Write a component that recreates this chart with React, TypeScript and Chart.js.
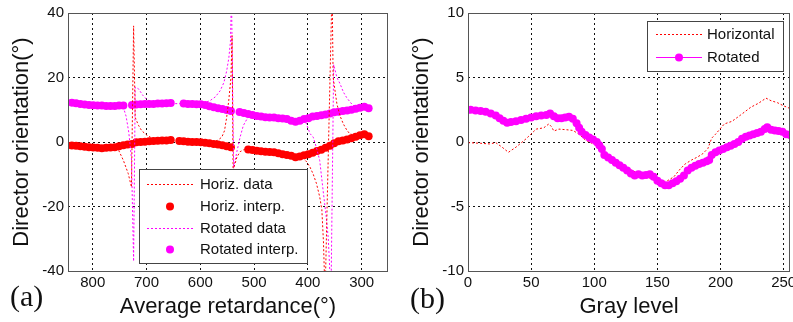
import React, { useEffect, useRef } from "react";
import { Chart, registerables } from "chart.js";

Chart.register(...registerables);

// ---------- Panel (a) data ----------
const retardanceTicks = [800, 700, 600, 500, 400, 300];
const orientationTicksA = [-40, -20, 0, 20, 40];

// common retardance grid for interpolated series
const retardanceGrid = [
  839, 831, 823, 815, 807, 799, 791, 783, 775, 767, 759, 751, 743, 735, 727, 719, 711, 703, 695, 687,
  679, 671, 663, 655, 647, 639, 631, 623, 615, 607, 599, 591, 583, 575, 567, 559, 551, 543, 535, 527,
  519, 511, 503, 495, 487, 479, 471, 463, 455, 447, 439, 431, 423, 415, 407, 399, 391, 383, 375, 367,
  359, 351, 343, 335, 327, 319, 311, 303, 295, 287,
];
const horizInterp = [
  -1.1, -1.2, -1.3, -1.5, -1.6, -1.7, -1.8, -1.9, -1.8, -1.7, -1.6, -1.3, -1.0, -0.8, -0.6, -0.1, 0.0, 0.1, 0.2, 0.3,
  0.4, 0.5, 0.5, 0.6, null, 0.3, 0.2, 0.1, 0.0, 0.0, -0.1, -0.2, -0.4, -0.6, -0.8, -1.0, -1.3, -1.6, null, null,
  null, -2.3, -2.5, -2.7, -2.9, -3.0, -3.1, -3.2, -3.5, -3.8, -4.0, -4.3, -4.7, -4.5, -4.1, -3.8, -3.3, -2.8, -2.4, -1.8,
  -1.2, -0.4, 0.2, 0.5, 0.8, 1.2, 1.6, 2.1, 2.4, 1.8,
];
const rotatedInterp = [
  12.2, 12.0, 11.8, 11.6, 11.5, 11.4, 11.3, 11.3, 11.2, 11.2, 11.2, 11.3, 11.3, null, 11.5, 11.6, 11.7, 11.8, 11.8, 11.8,
  11.9, 11.9, 12.0, 12.1, null, null, 11.9, 11.8, 11.8, 11.7, 11.7, 11.5, 11.1, 10.8, 10.5, 10.2, 9.9, 9.6, null, 9.3,
  9.0, 8.7, 8.4, 8.1, 7.9, 7.7, 7.6, 7.6, 7.4, 7.3, 7.1, 6.6, 6.3, 6.6, 7.1, 7.4, 7.9, 8.1, 8.3, 8.5,
  8.8, 9.2, 9.4, 9.6, 9.8, 10.0, 10.3, 10.6, 10.9, 10.5,
];

const horizDataX = [
  840, 800, 770, 752, 743, 734, 728, 724, 721, 715, 709, 700, 693, 680, 660, 640, 620, 600, 580, 568,
  560, 555, 551, 547, 543, 541, 539, 535, 532, 526, 518, 505, 480, 455, 430, 420, 409, 402, 396, 390,
  384, 378, 374, 371, 368, 355, 353, 346, 340, 334, 328, 322, 310, 300, 287,
];
const horizDataY = [
  -1.1, -1.7, -1.8, -2.5, -5.7, -9.8, -14, 36, 7.6, 5.2, 3.5, 2.2, 1.5, 0.6, 0.5, 0.4, 0.1, -0.1, 0.0, 0.5,
  1.5, 3.5, 7.6, 13, 20, 33, -8.8, -6.5, -4.7, -3.0, -2.3, -2.5, -3.0, -3.5, -4.3, -4.7, -5.0, -6.2, -7.8, -10,
  -12.9, -17, -21, -31, -48, 48, 20, 11.8, 8, 5.6, 3.8, 2.5, 2.0, 2.2, 1.8,
];

const rotatedDataX = [
  840, 800, 770, 750, 743, 738, 733, 728, 724, 721, 715, 707, 700, 690, 670, 640, 610, 595, 582, 572,
  563, 556, 551, 547, 544, 542, 538, 535, 532, 526, 520, 512, 500, 480, 460, 440, 425, 412, 404, 396,
  390, 384, 378, 371, 366, 362, 357, 352, 346, 340, 334, 328, 322, 316, 305, 295, 287,
];
const rotatedDataY = [
  12.2, 11.5, 11.2, 11.2, 10.7, 8, 3, -5, -37, 17, 16.5, 14.5, 13.3, 12.2, 11.9, 11.9, 11.7, 12.0, 12.8, 14,
  15.9, 18.5, 22, 26, 31, 45, -8, -5.5, -3, 1.5, 5.1, 7.5, 8.2, 7.7, 7.4, 7.1, 6.4, 6.8, 6.2, 2.6,
  1.5, -1.8, -5.7, -16, -23, -30, -48, 24, 20, 18, 15.5, 13.8, 12.5, 11.3, 10.6, 10.8, 10.5,
];

// ---------- Panel (b) data ----------
const grayTicks = [0, 50, 100, 150, 200, 250];
const orientationTicksB = [-10, -5, 0, 5, 10];

const horizontalGray = [
  0, 10, 17, 22, 27, 32, 38, 46, 54, 60, 64, 66, 68, 72, 78, 83, 88, 93, 98, 104,
  110, 117, 123, 130, 136, 142, 148, 153, 158, 163, 168, 172, 177, 182, 186, 190, 193, 196, 203, 209,
  216, 224, 230, 236, 240, 245, 250, 255,
];
const horizontalOrient = [
  -0.05, -0.1, -0.15, -0.05, -0.4, -0.8, -0.4, 0.25, 1.0, 1.1, 1.4, 1.2, 0.85, 1.0, 0.95, 0.9, 0.6, 0.15, -0.1, -0.4,
  -1.0, -1.5, -1.8, -2.2, -2.5, -2.7, -3.0, -3.1, -3.0, -2.7, -2.1, -1.7, -1.4, -1.15, -0.9, -0.5, 0.3, 0.6, 1.4, 1.6,
  2.1, 2.7, 3.0, 3.4, 3.2, 3.05, 2.8, 2.6,
];

const rotatedGray = [
  2, 6, 10, 14, 18, 22, 25, 28, 31, 34, 38, 42, 46, 50, 54, 58, 62, 65, 68, 71,
  74, 77, 80, 83, 86, 88, 90, 93, 96, 99, 102, 104, 106, 108, 111, 114, 117, 120, 123, 126,
  129, 132, 135, 138, 141, 144, 147, 150, 153, 156, 159, 162, 165, 168, 171, 174, 177, 180, 183, 186,
  189, 191, 193, 196, 199, 202, 205, 208, 211, 214, 217, 220, 223, 226, 229, 232, 235, 237, 240, 243,
  246, 249, 252, 255,
];
const rotatedOrient = [
  2.5, 2.45, 2.4, 2.35, 2.2, 2.05, 1.85, 1.65, 1.5, 1.55, 1.6, 1.7, 1.8, 1.9, 2.0, 2.05, 2.1, 2.2, 2.0, 1.85,
  1.85, 1.9, 1.95, 1.8, 1.45, 1.1, 0.8, 0.55, 0.35, 0.2, 0.0, -0.25, -0.55, -1.0, -1.2, -1.4, -1.6, -1.8, -2.0, -2.2,
  -2.45, -2.6, -2.5, -2.6, -2.55, -2.5, -2.7, -3.0, -3.2, -3.35, -3.35, -3.2, -3.05, -2.85, -2.6, -2.2, -2.0, -1.85, -1.7, -1.6,
  -1.5, -1.4, -1.0, -0.8, -0.65, -0.55, -0.4, -0.3, -0.15, 0.0, 0.25, 0.4, 0.5, 0.6, 0.7, 0.8, 1.0, 1.15, 0.95, 0.9,
  0.85, 0.8, 0.6, 0.55,
];

// ---------- helpers ----------
const RED = "#ff0000";
const MAGENTA = "#ff00ff";
const FONT = "'Liberation Sans', Arial, sans-serif";

const pts = (xs: number[], ys: (number | null)[]) =>
  xs.map((x, i) => ({ x, y: ys[i] })).filter((p) => p.y !== null && p.y !== undefined);

const framePlugin = {
  id: "frame",
  afterDraw(chart: any) {
    const { ctx, chartArea: a } = chart;
    ctx.save();
    ctx.strokeStyle = "#555";
    ctx.lineWidth = 1;
    ctx.setLineDash([]);
    ctx.strokeRect(Math.round(a.left) + 0.5, Math.round(a.top) + 0.5, Math.round(a.right - a.left) - 1, Math.round(a.bottom - a.top));
    ctx.restore();
  },
};

const boxLegendPlugin = {
  id: "boxLegend",
  afterDraw(chart: any, _args: any, opts: any) {
    if (!opts || !opts.rows) return;
    const ctx = chart.ctx;
    ctx.save();
    ctx.fillStyle = "#fff";
    ctx.fillRect(opts.x, opts.y, opts.w, opts.h);
    ctx.strokeStyle = "#444";
    ctx.lineWidth = 1;
    ctx.setLineDash([]);
    ctx.strokeRect(opts.x + 0.5, opts.y + 0.5, opts.w, opts.h);
    chart.data.datasets.forEach((ds: any, i: number) => {
      const y = opts.rows[i];
      if (ds.showLine) {
        ctx.beginPath();
        ctx.setLineDash(ds.borderDash || []);
        ctx.strokeStyle = ds.borderColor;
        ctx.lineWidth = ds.borderWidth;
        ctx.moveTo(opts.lx0, Math.round(y) + 0.5);
        ctx.lineTo(opts.lx1, Math.round(y) + 0.5);
        ctx.stroke();
        ctx.setLineDash([]);
      }
      if (ds.pointRadius > 0) {
        ctx.beginPath();
        ctx.fillStyle = ds.pointBackgroundColor;
        ctx.arc((opts.lx0 + opts.lx1) / 2, y + 0.5, ds.pointRadius, 0, Math.PI * 2);
        ctx.fill();
      }
      ctx.fillStyle = "#111";
      ctx.font = `15px ${FONT}`;
      ctx.textBaseline = "middle";
      ctx.textAlign = "left";
      ctx.fillText(ds.label, opts.tx, y + 1);
    });
    ctx.restore();
  },
};

const axisCommon = (ticksArr: number[], tickPad: number) => ({
  type: "linear" as const,
  afterBuildTicks: (s: any) => {
    s.ticks = ticksArr.map((v) => ({ value: v }));
  },
  grid: { color: "#111", lineWidth: 1, drawTicks: false },
  border: { display: false, dash: [2, 3] },
  ticks: {
    color: "#111",
    font: { family: FONT, size: 15 },
    padding: tickPad,
    callback: (v: any) => String(v),
  },
});

function makeOptions(cfg: any) {
  return {
    responsive: false,
    animation: false as const,
    devicePixelRatio: 1,
    layout: { padding: { top: 12, right: cfg.padRight, left: 0, bottom: 0 } },
    events: [],
    plugins: {
      legend: { display: false },
      tooltip: { enabled: false },
      boxLegend: cfg.legend,
    },
    scales: {
      x: {
        ...axisCommon(cfg.xTicks, 3),
        reverse: cfg.reverse,
        min: cfg.xMin,
        max: cfg.xMax,
        afterFit: (s: any) => {
          s.height = 51;
        },
        title: {
          display: true,
          text: cfg.xTitle,
          color: "#111",
          font: { family: FONT, size: 22 },
          padding: { top: 0, bottom: 2 },
        },
      },
      y: {
        ...axisCommon(cfg.yTicks, 4),
        min: cfg.yMin,
        max: cfg.yMax,
        afterFit: (s: any) => {
          s.width = 68;
        },
        title: {
          display: true,
          text: "Director orientation(°)",
          color: "#111",
          font: { family: FONT, size: 22 },
          padding: { top: 9, bottom: 0 },
        },
      },
    },
  };
}

export default function App() {
  const refA = useRef<HTMLCanvasElement>(null);
  const refB = useRef<HTMLCanvasElement>(null);

  useEffect(() => {
    const chartA = new Chart(refA.current as HTMLCanvasElement, {
      type: "scatter",
      data: {
        datasets: [
          {
            label: "Horiz. data",
            data: pts(horizDataX, horizDataY),
            showLine: true,
            borderColor: RED,
            borderWidth: 1,
            borderDash: [2, 2],
            pointRadius: 0,
            order: 0,
          },
          {
            label: "Horiz. interp.",
            data: pts(retardanceGrid, horizInterp),
            showLine: false,
            pointRadius: 4,
            pointBackgroundColor: RED,
            pointBorderColor: RED,
            pointBorderWidth: 0,
            order: 1,
          },
          {
            label: "Rotated data",
            data: pts(rotatedDataX, rotatedDataY),
            showLine: true,
            borderColor: MAGENTA,
            borderWidth: 1,
            borderDash: [2, 2],
            pointRadius: 0,
            order: 0,
          },
          {
            label: "Rotated interp.",
            data: pts(retardanceGrid, rotatedInterp),
            showLine: false,
            pointRadius: 4,
            pointBackgroundColor: MAGENTA,
            pointBorderColor: MAGENTA,
            pointBorderWidth: 0,
            order: 1,
          },
        ] as any,
      },
      options: makeOptions({
        padRight: 12,
        xTicks: retardanceTicks,
        yTicks: orientationTicksA,
        reverse: true,
        xMin: 251,
        xMax: 846,
        yMin: -40,
        yMax: 40,
        xTitle: "Average retardance(°)",
        legend: { x: 139, y: 169, w: 168, h: 94, rows: [184, 206, 228, 249], lx0: 147, lx1: 193, tx: 200 },
      }) as any,
      plugins: [boxLegendPlugin, framePlugin],
    });

    const chartB = new Chart(refB.current as HTMLCanvasElement, {
      type: "scatter",
      data: {
        datasets: [
          {
            label: "Horizontal",
            data: pts(horizontalGray, horizontalOrient),
            showLine: true,
            borderColor: RED,
            borderWidth: 1,
            borderDash: [2, 2],
            pointRadius: 0,
            order: 2,
          },
          {
            label: "Rotated",
            data: pts(rotatedGray, rotatedOrient),
            showLine: true,
            borderColor: MAGENTA,
            borderWidth: 1,
            pointRadius: 4,
            pointBackgroundColor: MAGENTA,
            pointBorderColor: MAGENTA,
            pointBorderWidth: 0,
            order: 1,
          },
        ] as any,
      },
      options: makeOptions({
        padRight: 40,
        xTicks: grayTicks,
        yTicks: orientationTicksB,
        reverse: false,
        xMin: 0,
        xMax: 255,
        yMin: -10,
        yMax: 10,
        xTitle: "Gray level",
        legend: { x: 247, y: 21, w: 136, h: 50, rows: [34, 57], lx0: 256, lx1: 302, tx: 307 },
      }) as any,
      plugins: [boxLegendPlugin, framePlugin],
    });

    return () => {
      chartA.destroy();
      chartB.destroy();
    };
  }, []);

  const labelStyle: React.CSSProperties = {
    position: "absolute",
    fontFamily: "'Liberation Serif', 'Times New Roman', serif",
    fontSize: 30,
    lineHeight: "30px",
    color: "#111",
    whiteSpace: "nowrap",
  };

  return (
    <div
      style={{
        position: "absolute",
        left: 0,
        top: 0,
        width: 793,
        height: 322,
        overflow: "hidden",
        background: "#fff",
      }}
    >
      <canvas ref={refA} width={400} height={322} style={{ position: "absolute", left: 0, top: 0 }} />
      <canvas ref={refB} width={430} height={322} style={{ position: "absolute", left: 400, top: 0 }} />
      <div style={{ ...labelStyle, left: 10, top: 281 }}>(a)</div>
      <div style={{ ...labelStyle, left: 410, top: 283 }}>(b)</div>
    </div>
  );
}
